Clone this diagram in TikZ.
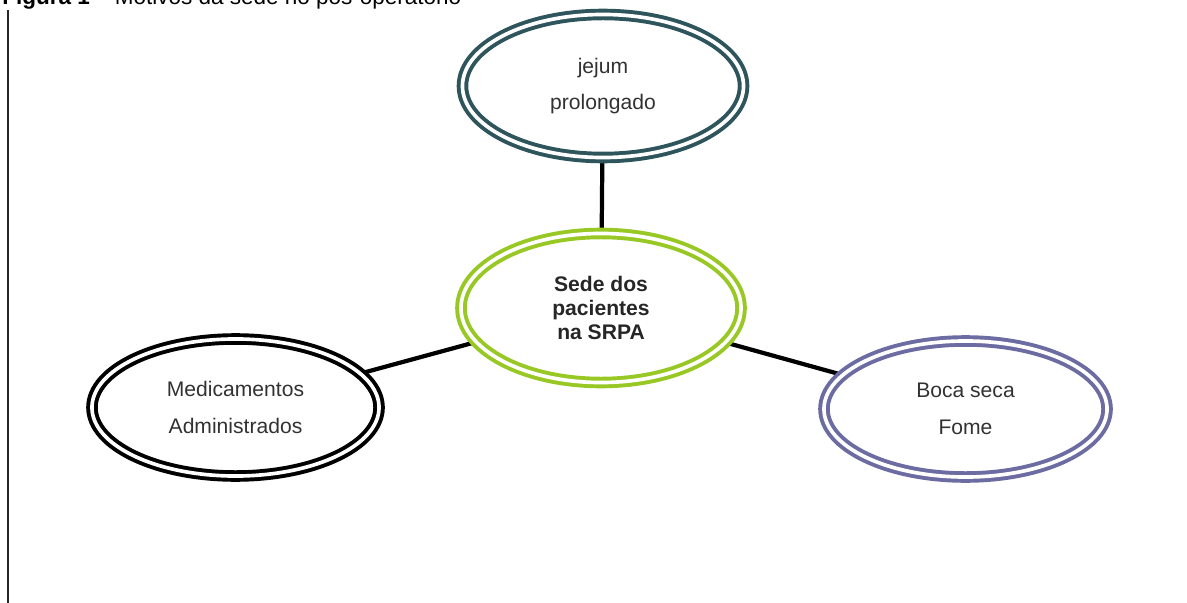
\documentclass[tikz,border=0pt]{standalone}
\usepackage{fontspec}
\setmainfont{Liberation Sans}
\usetikzlibrary{shapes.geometric,backgrounds}
\definecolor{tealring}{RGB}{46,84,92}
\definecolor{limering}{RGB}{152,200,36}
\definecolor{slatering}{RGB}{108,108,162}
\definecolor{txtgray}{RGB}{50,50,50}
\begin{document}
\begin{tikzpicture}[x=0.025cm, y=-0.025cm,
   ring/.style={ellipse, draw, line width=2.8pt, double=white, double distance=2.6pt,
      inner sep=0pt, outer sep=0pt, align=center, text=txtgray,
      font=\fontsize{15}{26}\selectfont},
   link/.style={line width=3pt, black}]
   \useasboundingbox (0,0) rectangle (1187,603);
   \clip (0,0) rectangle (1187,603);
   % title (cut off at the top)
   \node[anchor=base west, inner sep=0pt, font=\fontsize{16}{19}\selectfont] (title) at (2,5)
      {\textbf{Figura 1} – Motivos da sede no pós-operatório};
   \draw[line width=1.4pt, black!85] (8,10) -- (8,603);
   % ellipses
   \node[ring, draw=tealring, minimum width=7.025cm, minimum height=3.575cm] (jejum) at (603,86)
      {jejum\\prolongado};
   \node[ring, draw=limering, minimum width=7.0cm, minimum height=3.725cm,
      font=\fontsize{15}{17}\selectfont\bfseries, text=black!85] (sede) at (601,308)
      {Sede dos\\pacientes\\na SRPA};
   \node[ring, draw=black, minimum width=7.175cm, minimum height=3.425cm] (medic) at (235.5,407.5)
      {Medicamentos\\Administrados};
   \node[ring, draw=slatering, minimum width=7.075cm, minimum height=3.4cm] (boca) at (965.5,409)
      {Boca seca\\Fome};
   % connectors
   \begin{scope}[on background layer]
      \draw[link] (jejum) -- (sede);
      \draw[link] (medic) -- (sede);
      \draw[link] (sede) -- (boca);
   \end{scope}
\end{tikzpicture}
\end{document}
